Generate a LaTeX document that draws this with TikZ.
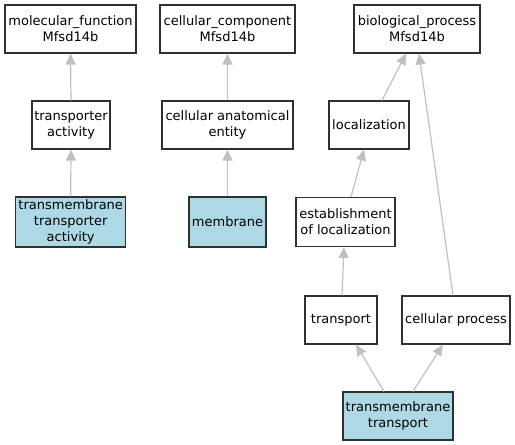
\documentclass[tikz,border=0pt]{standalone}
\usepackage{fontspec}
\setmainfont{DejaVu Sans}
\usetikzlibrary{arrows.meta}
\definecolor{lb}{HTML}{ADD8E6}
\definecolor{edgegray}{HTML}{C0C0C0}
\definecolor{bordergray}{HTML}{303030}
\begin{document}
\begin{tikzpicture}[x=1pt,y=-1pt,
  term/.style={draw=bordergray, line width=1.1pt, fill=white, inner sep=0pt, align=center,
    font=\fontsize{13}{15.8}\selectfont, text=black},
  hit/.style={term, fill=lb},
  isa/.style={draw=edgegray, line width=1.2pt, -{Triangle[length=11pt,width=10pt]}}]
\useasboundingbox (0,0) rectangle (515,445);
\node[term, minimum width=131pt, minimum height=48pt] (mf) at (70.5,29) {molecular\_function\\Mfsd14b};
\node[term, minimum width=135pt, minimum height=48pt] (cc) at (227.5,29) {cellular\_component\\Mfsd14b};
\node[term, minimum width=126pt, minimum height=48pt] (bp) at (417,29) {biological\_process\\Mfsd14b};
\node[term, minimum width=78pt, minimum height=48pt] (ta) at (71,125) {transporter\\activity};
\node[term, minimum width=131pt, minimum height=48pt] (cae) at (227.5,125) {cellular anatomical\\entity};
\node[term, minimum width=80pt, minimum height=48pt] (loc) at (369,125) {localization};
\node[hit, minimum width=110pt, minimum height=50pt] (tta) at (70.7,222) {transmembrane\\transporter\\activity};
\node[hit, minimum width=77pt, minimum height=50pt] (mem) at (227.5,222) {membrane};
\node[term, minimum width=99pt, minimum height=49pt] (eol) at (345.5,222) {establishment\\of localization};
\node[term, minimum width=72pt, minimum height=48pt] (tr) at (341,320) {transport};
\node[term, minimum width=108pt, minimum height=48pt] (cp) at (456,320) {cellular process};
\node[hit, minimum width=110pt, minimum height=48pt] (tmt) at (398,416) {transmembrane\\transport};
\draw[isa] (ta.north) -- (mf.south);
\draw[isa] (tta.north) -- (ta.south);
\draw[isa] (cae.north) -- (cc.south);
\draw[isa] (mem.north) -- (cae.south);
\draw[isa] ([xshift=13pt]loc.north) -- ([xshift=-11pt]bp.south);
\draw[isa] ([xshift=5.5pt]eol.north) -- ([xshift=-5pt]loc.south);
\draw[isa] ([xshift=-3pt]cp.north) -- ([xshift=2pt]bp.south);
\draw[isa] ([xshift=1pt]tr.north) -- ([xshift=-1.5pt]eol.south);
\draw[isa] ([xshift=-14pt]tmt.north) -- ([xshift=15pt]tr.south);
\draw[isa] ([xshift=15pt]tmt.north) -- ([xshift=-13pt]cp.south);
\end{tikzpicture}
\end{document}
